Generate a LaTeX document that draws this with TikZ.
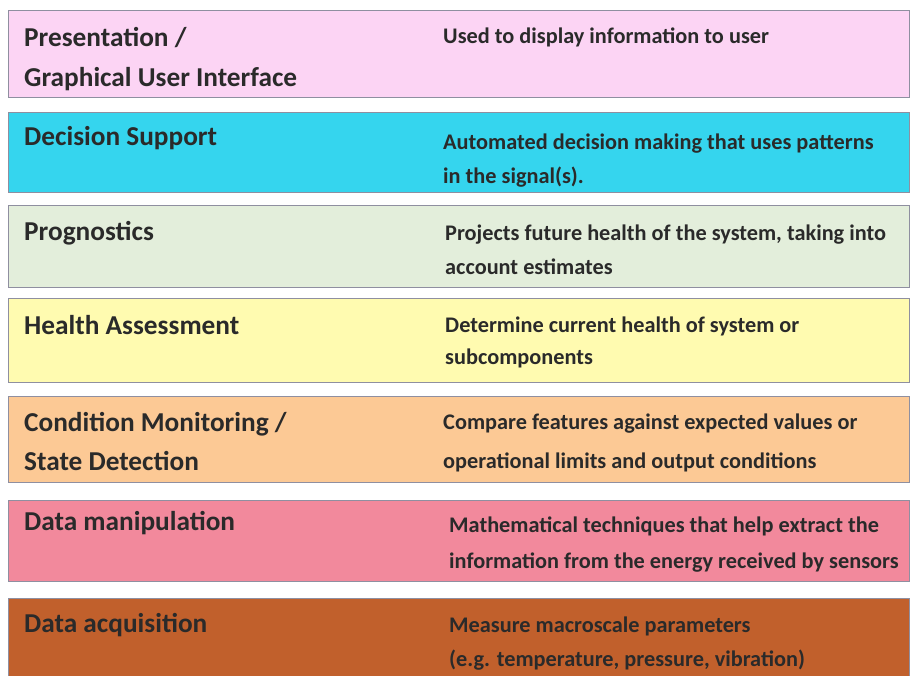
\documentclass[tikz,border=0pt]{standalone}
\usepackage{fontspec}
\setmainfont{Carlito}
\usepackage{xcolor}
\usepackage{tikz}
\usetikzlibrary{positioning}
\definecolor{pres}{HTML}{FCD4F4}
\definecolor{decis}{HTML}{35D5EE}
\definecolor{progn}{HTML}{E3EEDB}
\definecolor{health}{HTML}{FFFBB0}
\definecolor{cond}{HTML}{FCC995}
\definecolor{manip}{HTML}{F2899C}
\definecolor{acq}{HTML}{C1602C}
\definecolor{edge}{HTML}{8F8FA0}
\definecolor{ink}{HTML}{2A2A2A}

\begin{document}
\begin{tikzpicture}
    [x=1pt, y=-1pt,
     Layer/.style={draw=edge, line width=1.2pt, anchor=north west, inner sep=0pt, minimum width=901pt},
     Name/.style={anchor=west, inner sep=0pt, align=left, text=ink, font=\bfseries\fontsize{27.3}{#1}\selectfont},
     Name/.default=40,
     Task/.style={anchor=west, inner sep=0pt, align=left, text=ink, font=\bfseries\fontsize{22.3}{#1}\selectfont},
     Task/.default=36
    ]
\useasboundingbox (0,0) rectangle (910,675);

%layers, top to bottom
\node[Layer, fill=pres,   minimum height=87pt] (P) at (8,10)  {};
\node[Layer, fill=decis,  minimum height=80pt] (D) at (8,112) {};
\node[Layer, fill=progn,  minimum height=82pt] (G) at (8,205) {};
\node[Layer, fill=health, minimum height=84pt] (H) at (8,298) {};
\node[Layer, fill=cond,   minimum height=86pt] (C) at (8,396) {};
\node[Layer, fill=manip,  minimum height=81pt] (M) at (8,500) {};
\node[Layer, fill=acq,    minimum height=80pt] (A) at (8,598) {};

%layer names on the left
\node[Name] (Pn) at (24,59)      {Presentation /\\Graphical User Interface};
\node[Name] (Dn) at (24,138)     {Decision Support};
\node[Name] (Gn) at (24,233)     {Prognostics};
\node[Name] (Hn) at (24,325)     {Health Assessment};
\node[Name=39] (Cn) at (24,441.5) {Condition Monitoring /\\State Detection};
\node[Name] (Mn) at (24,523)     {Data manipulation};
\node[Name] (An) at (24,625)     {Data acquisition};

%what each layer does
\node[Task] (Pt) at (443,37)      {Used to display information to user};
\node[Task=34] (Dt) at (443,160.5) {Automated decision making that uses patterns\\in the signal(s).};
\node[Task=34] (Gt) at (445,250)   {Projects future health of the system, taking into\\account estimates};
\node[Task=32] (Ht) at (445,342.5) {Determine current health of system or\\subcomponents};
\node[Task=39] (Ct) at (443,442.5) {Compare features against expected values or\\operational limits and output conditions};
\node[Task=36] (Mt) at (449,545)   {Mathematical techniques that help extract the\\information from the energy received by sensors};
\node[Task=34] (At) at (449,643.5) {Measure macroscale parameters\\(e.g. temperature, pressure, vibration)};

\end{tikzpicture}
\end{document}
